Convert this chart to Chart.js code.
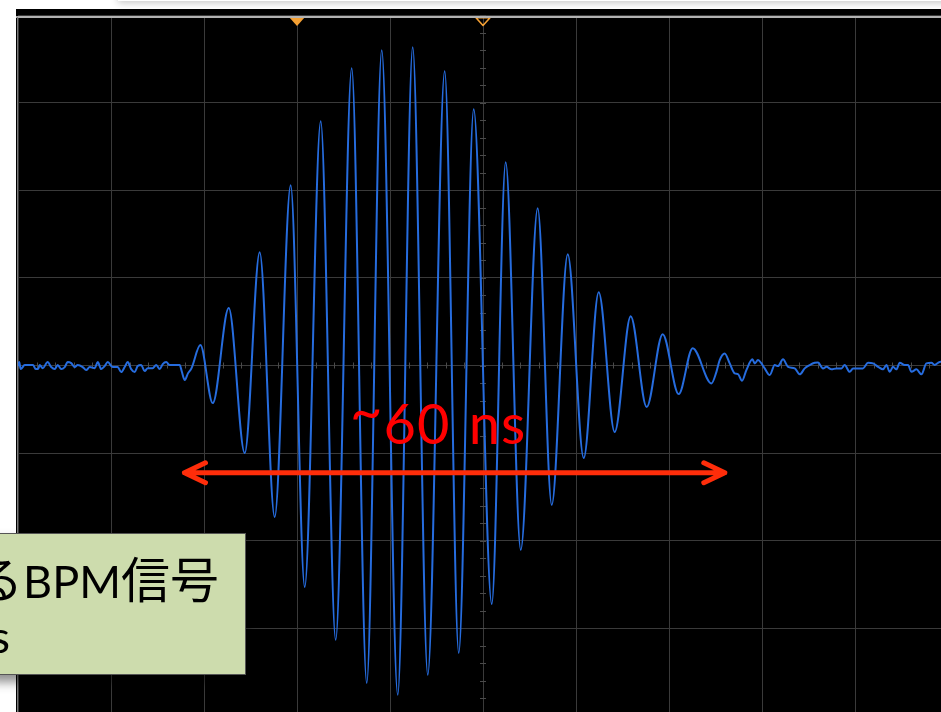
<!DOCTYPE html>
<html>
<head>
<meta charset="utf-8">
<script src="https://cdn.jsdelivr.net/npm/chart.js@4/dist/chart.umd.min.js"></script>
<style>
  html, body { margin:0; padding:0; background:#ffffff; }
  body { width:941px; height:712px; overflow:hidden; position:relative; }
  #topShadow { position:absolute; left:118px; top:-30px; width:900px; height:31px; background:#fff;
               box-shadow:0 2px 7px rgba(0,0,0,0.22); }
  #scope { position:absolute; left:16px; top:9px; width:940px; height:720px; background:#000; }
  #topLine { position:absolute; left:16px; top:16px; width:940px; height:2px; background:#b2b2b2; }
  #leftLine { position:absolute; left:17px; top:17px; width:1px; height:700px; background:#7a7a7a; }
  #plot { position:absolute; left:18px; top:15px; width:930px; height:701px; }
  #lbl60 { position:absolute; left:350px; top:395px; font-family:Lato, "Noto Sans", sans-serif; font-size:56px;
           line-height:1; color:#ff0000; white-space:nowrap; letter-spacing:1px; word-spacing:3px; }
  #lbl60 .tl { position:relative; top:-13px; }
  #note { position:absolute; left:-12px; top:533px; width:256px; height:140px; background:#cddcad;
          border:1px solid #555; box-shadow:2px 7px 10px rgba(0,0,0,0.45); overflow:hidden; }
  #note .ln { position:absolute; white-space:nowrap; line-height:1; font-family:"Noto Sans CJK JP", sans-serif;
              font-size:49px; color:#000; }
  #note .en { font-family:Lato, "Noto Sans", sans-serif; font-size:45px; }
  #note .l1 { right:26px; top:18px; }
  #note .l2 { right:235px; top:73px; }
</style>
</head>
<body>
<div id="topShadow"></div>
<div id="scope"></div>
<div id="plot"><canvas id="c"></canvas></div>
<div id="topLine"></div>
<div id="leftLine"></div>
<div id="lbl60"><span class="tl">~</span>60 ns</div>
<div id="note">
  <div class="ln l1">シングルバンチにおけ<span>る</span><span class="en">BPM</span>信号</div>
  <div class="ln l2"><span class="en">60 ns</span></div>
</div>
<script>
// time axis: ns from left screen edge (10 ns/div); voltage: mV (100 mV/div)
const timeNs = [
  0.00,0.13,0.29,0.72,1.63,1.90,2.17,2.33,2.66,3.19,3.57,3.95,4.27,4.65,5.02,5.34,5.72,6.10,6.42,6.96,
  7.33,7.71,8.25,8.57,8.95,9.32,9.65,10.18,10.72,11.10,11.47,11.80,12.17,12.55,12.87,13.25,13.62,13.95,
  14.48,14.86,15.24,15.56,15.94,16.31,17.39,17.60,17.93,18.29,18.65,
  19.61,20.94,22.66,24.38,25.99,27.60,29.32,30.83,32.55,34.16,35.88,37.50,39.11,40.83,42.44,44.06,
  45.88,47.39,49.00,50.94,52.44,54.06,55.88,57.39,59.11,60.83,62.44,64.16,65.88,67.60,69.32,71.04,72.55,
  74.56,75.10,75.45,75.99,76.53,77.07,77.42,77.85,78.32,78.97,79.22,79.57,79.94,80.29,80.83,81.37,81.72,
  82.26,82.80,83.52,84.06,84.59,85.13,85.67,86.02,86.56,86.93,87.47,88.00,88.54,88.89,89.43,89.79,90.86,
  91.40,91.94,92.48,93.01,93.38,93.73,94.09,94.45,94.81,95.34,95.70,96.07,96.61,97.14,97.68,98.22,98.57,
  98.93,99.22,100.00
];
const voltageMv = [
  -0.7,3.9,-4.1,0.5,0.5,-4.1,-4.1,0.5,-3.0,3.9,-1.8,-4.1,0.5,-4.1,-1.8,3.9,2.7,-1.8,0.5,-1.8,
  -5.2,-1.8,-3.0,3.9,-4.1,-0.7,3.9,-1.8,-1.8,-7.5,-1.8,3.9,-4.1,-7.5,-0.7,0.5,-6.4,-3.0,
  -3.0,0.5,-4.1,1.6,3.9,0.5,0.5,-6.4,-16.6,-8.7,-3.3,
  23.3,-42.9,65.5,-99.9,129.3,-172.9,205.7,-252.7,278.7,-313.1,339.1,-362.2,359.7,-375.8,363.1,-353.0,
  335.7,-328.0,292.4,-272.1,231.9,-210.5,179.5,-159.2,127.0,-105.6,83.7,-75.9,56.3,-47.4,35.8,-32.6,19.8,
  -20.4,-7.2,6.2,13.8,2.4,-9.0,-9.8,-17.4,-5.2,7.0,2.4,6.2,2.4,-3.3,-10.9,0.5,-0.7,
  7.0,-1.5,-3.3,-10.1,-3.3,0.5,3.1,3.5,-3.3,-1.5,-4.4,-3.3,-3.3,0.5,-7.2,-3.3,-3.3,
  3.1,2.4,-1.5,-4.4,0.5,-7.2,-1.5,-4.4,3.1,0.5,0.5,-7.2,-4.4,-10.1,2.4,3.1,0.5,
  3.1,4.2,0.5
];
const triggerMarkersNs = [30, 50];
const triggerFilled = [true, false];
const arrowNs = [17.9, 76.0];
const arrowMv = -122.4;

const TRACE = 'rgb(38,108,222)';
const GRID = '#3a3a3a';
const ORANGE = '#f5a033';
const ARROW = '#ff2d0a';

const decor = {
  id: 'decor',
  beforeDatasetsDraw(chart) {
    const {ctx, scales:{x, y}} = chart;
    const cx = x.getPixelForValue(50), cy = y.getPixelForValue(0);
    ctx.save();
    ctx.strokeStyle = '#4a4a4a';
    ctx.lineWidth = 1;
    ctx.beginPath();
    for (let v = -400; v <= 400; v += 20) {
      const py = Math.round(y.getPixelForValue(v)) + 0.5;
      ctx.moveTo(cx - 3, py); ctx.lineTo(cx + 3, py);
    }
    for (let t = 0; t <= 100; t += 2) {
      const px = Math.round(x.getPixelForValue(t)) + 0.5;
      ctx.moveTo(px, cy - 3); ctx.lineTo(px, cy + 3);
    }
    ctx.stroke();
    ctx.restore();
  },
  afterDatasetsDraw(chart) {
    const {ctx, chartArea, scales:{x, y}} = chart;
    ctx.save();
    // double-headed arrow
    const x1 = x.getPixelForValue(arrowNs[0]), x2 = x.getPixelForValue(arrowNs[1]);
    const ay = y.getPixelForValue(arrowMv);
    ctx.strokeStyle = ARROW; ctx.lineWidth = 5; ctx.lineCap = 'round'; ctx.lineJoin = 'round';
    ctx.beginPath();
    ctx.moveTo(x1, ay); ctx.lineTo(x2, ay);
    ctx.moveTo(x1 + 21, ay - 10); ctx.lineTo(x1, ay); ctx.lineTo(x1 + 21, ay + 10);
    ctx.moveTo(x2 - 21, ay - 10); ctx.lineTo(x2, ay); ctx.lineTo(x2 - 21, ay + 10);
    ctx.stroke();
    // trigger markers
    triggerMarkersNs.forEach((t, i) => {
      const px = x.getPixelForValue(t);
      const top = chartArea.top + 2, bot = chartArea.top + 11;
      ctx.beginPath();
      if (triggerFilled[i]) {
        ctx.moveTo(px - 8, top); ctx.lineTo(px + 8, top); ctx.lineTo(px, bot); ctx.closePath();
        ctx.fillStyle = ORANGE; ctx.fill();
      } else {
        ctx.moveTo(px - 7, top + 0.8); ctx.lineTo(px + 7, top + 0.8); ctx.lineTo(px, bot - 0.5); ctx.closePath();
        ctx.strokeStyle = ORANGE; ctx.lineWidth = 1.6; ctx.lineCap = 'butt'; ctx.stroke();
      }
    });
    ctx.restore();
  }
};

new Chart(document.getElementById('c'), {
  type: 'line',
  data: {
    datasets: [{
      data: timeNs.map((t, i) => ({x: t, y: voltageMv[i]})),
      borderColor: TRACE,
      borderWidth: 2,
      pointRadius: 0,
      fill: false,
      cubicInterpolationMode: 'monotone'
    }]
  },
  options: {
    responsive: true,
    maintainAspectRatio: false,
    animation: false,
    events: [],
    layout: { padding: 0 },
    plugins: { legend: { display: false }, tooltip: { enabled: false } },
    scales: {
      x: {
        type: 'linear', min: 0, max: 100,
        ticks: { stepSize: 10, display: false },
        grid: { color: GRID, lineWidth: 1, drawTicks: false },
        border: { display: false },
        afterFit(s) { s.height = 0; }
      },
      y: {
        type: 'linear', min: -400, max: 400,
        ticks: { stepSize: 100, display: false },
        grid: { color: GRID, lineWidth: 1, drawTicks: false },
        border: { display: false },
        afterFit(s) { s.width = 0; }
      }
    }
  },
  plugins: [decor]
});
</script>
</body>
</html>
